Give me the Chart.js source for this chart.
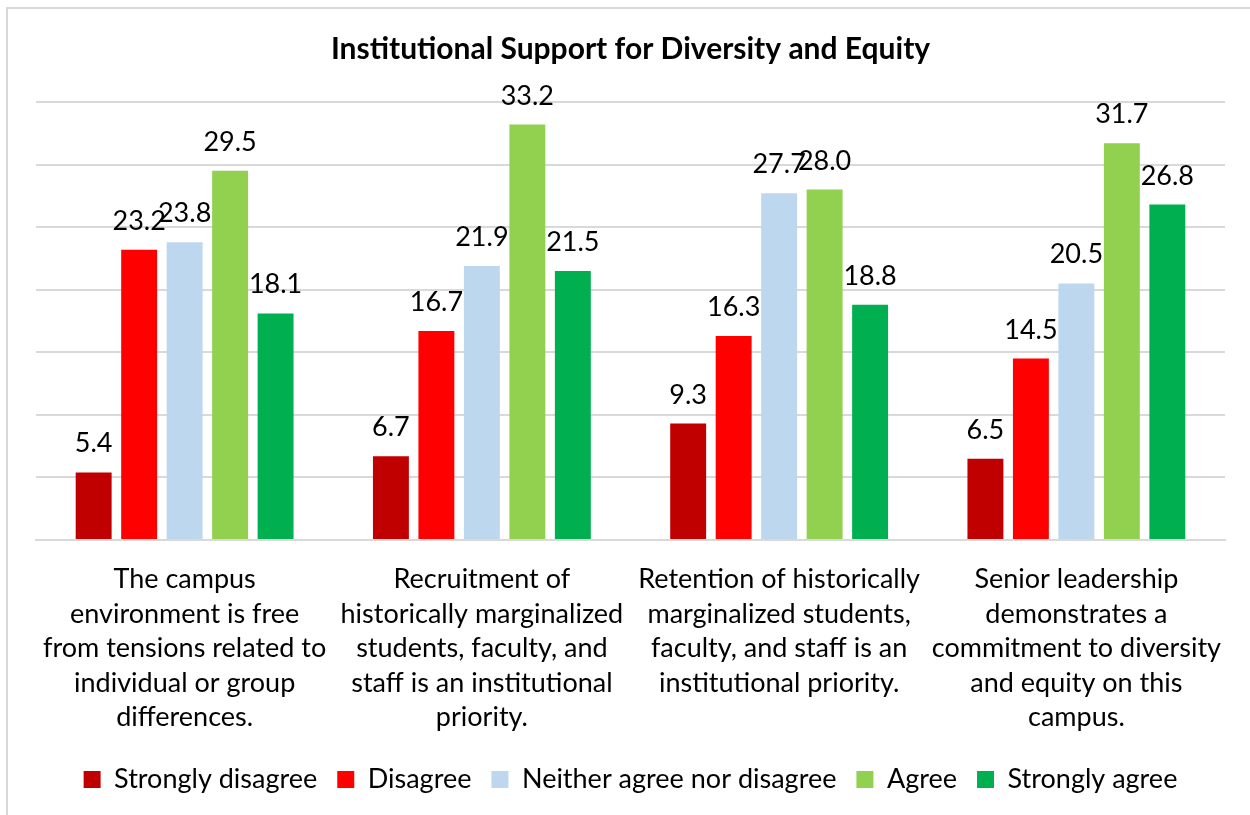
<!DOCTYPE html>
<html>
<head>
<meta charset="utf-8">
<script src="https://cdn.jsdelivr.net/npm/chart.js@4"></script>
<style>
  html, body { margin: 0; padding: 0; background: #fff; }
  #wrap { position: relative; width: 1250px; height: 815px; overflow: hidden; }
  #frame { position: absolute; left: 6px; top: 7px; width: 1300px; height: 900px; border: 2px solid #d9d9d9; box-sizing: border-box; }
  canvas { position: absolute; left: 0; top: 0; }
</style>
</head>
<body>
<div id="wrap">
  <div id="frame"></div>
  <canvas id="chart" width="1250" height="815"></canvas>
</div>
<script>
const categories = [
    ['The campus', 'environment is free', 'from tensions related to', 'individual or group', 'differences.'],
    ['Recruitment of', 'historically marginalized', 'students, faculty, and', 'staff is an institutional', 'priority.'],
    ['Retention of historically', 'marginalized students,', 'faculty, and staff is an', 'institutional priority.'],
    ['Senior leadership', 'demonstrates a', 'commitment to diversity', 'and equity on this', 'campus.']
];
const seriesNames = ['Strongly disagree', 'Disagree', 'Neither agree nor disagree', 'Agree', 'Strongly agree'];
const stronglyDisagree = [5.4, 6.7, 9.3, 6.5];
const disagree = [23.2, 16.7, 16.3, 14.5];
const neither = [23.8, 21.9, 27.7, 20.5];
const agree = [29.5, 33.2, 28.0, 31.7];
const stronglyAgree = [18.1, 21.5, 18.8, 26.8];
const colors = ['#C00000', '#FF0000', '#BDD7EE', '#92D050', '#00B050'];

const fontFamily = 'Lato, "Open Sans", sans-serif';

// Data labels above each bar
const barLabels = {
    id: 'barLabels',
    afterDatasetsDraw(chart) {
        const ctx = chart.ctx;
        ctx.save();
        ctx.font = '27px ' + fontFamily;
        ctx.fillStyle = '#000';
        ctx.textAlign = 'center';
        ctx.textBaseline = 'alphabetic';
        chart.data.datasets.forEach(function(ds, i) {
            chart.getDatasetMeta(i).data.forEach(function(bar, j) {
                ctx.fillText(ds.data[j].toFixed(1), bar.x, bar.y - 20);
            });
        });
        ctx.restore();
    }
};

const seriesData = [stronglyDisagree, disagree, neither, agree, stronglyAgree];

const data = {
    labels: categories,
    datasets: seriesNames.map(function(name, i) {
        return {
            label: name,
            data: seriesData[i],
            backgroundColor: colors[i],
            categoryPercentage: 0.765,
            barPercentage: 0.79
        };
    })
};

const config = {
    type: 'bar',
    data: data,
    plugins: [barLabels],
    options: {
        responsive: false,
        animation: false,
        layout: { padding: { left: 36, right: 25, top: 31, bottom: 12 } },
        plugins: {
            title: {
                display: true,
                text: 'Institutional Support for Diversity and Equity',
                color: '#000',
                font: { family: fontFamily, size: 30, weight: 'bold' },
                padding: { top: 0, bottom: 35 }
            },
            legend: {
                position: 'bottom',
                labels: {
                    color: '#000',
                    font: { family: fontFamily, size: 27 },
                    boxWidth: 17,
                    boxHeight: 17,
                    padding: 20
                }
            },
            tooltip: { enabled: false }
        },
        scales: {
            x: {
                grid: { display: false, drawTicks: false },
                border: { color: '#d9d9d9', width: 2 },
                ticks: {
                    color: '#000',
                    font: { family: fontFamily, size: 27, lineHeight: 1.28 },
                    padding: 22,
                    maxRotation: 0,
                    autoSkip: false
                },
                afterFit: function(scale) { scale.height = 206; }
            },
            y: {
                min: 0,
                max: 35,
                ticks: { display: false, stepSize: 5 },
                border: { display: false },
                grid: { color: '#d9d9d9', lineWidth: 2, drawTicks: false }
            }
        }
    }
};

new Chart(document.getElementById('chart').getContext('2d'), config);
</script>
</body>
</html>
